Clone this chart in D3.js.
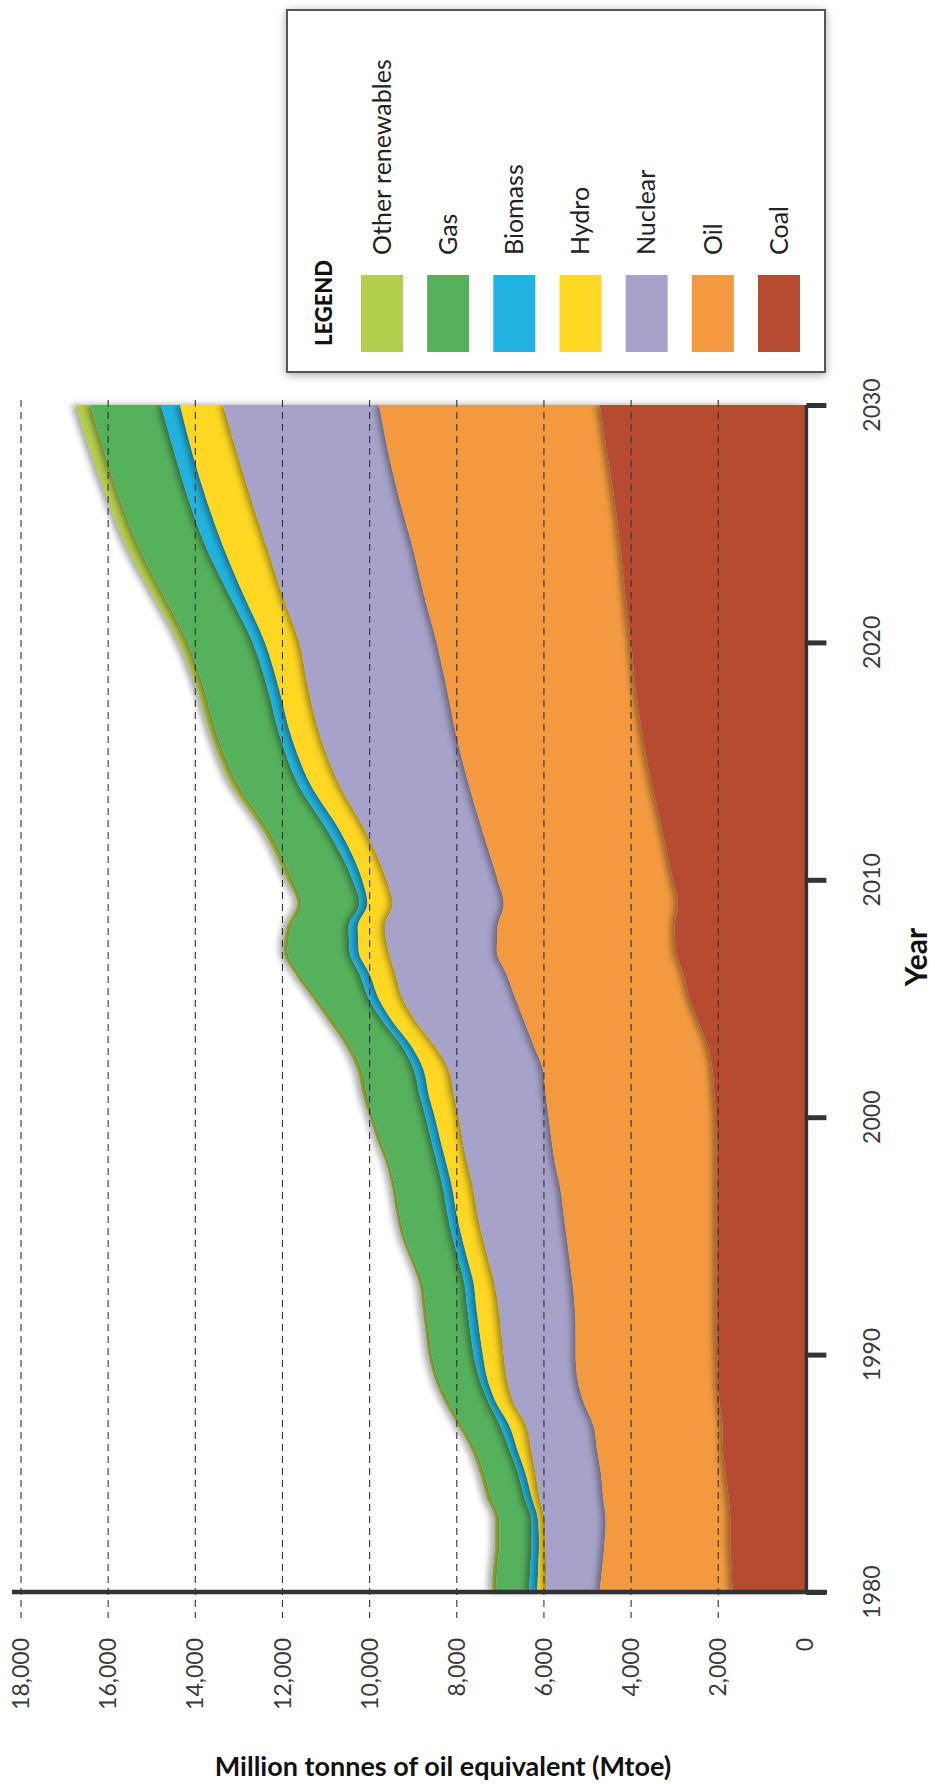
<!DOCTYPE html>
<html><head><meta charset="utf-8">
<script src="https://cdn.jsdelivr.net/npm/d3@7"></script>
<style>body{margin:0;background:#fff;} svg{display:block;}</style>
</head><body>
<svg id="chart" width="935" height="1784"></svg>
<script>
// ---- data (Mtoe) ----
const years = [1980,1981,1982,1983,1984,1985,1986,1987,1988,1989,1990,1991,1992,1993,1994,1995,1996,1997,1998,1999,2000,2001,2002,2003,2004,2005,2006,2007,2008,2009,2010,2012,2014,2016,2018,2020,2022,2024,2026,2028,2030];
const coal = [1670,1690,1720,1720,1760,1830,1890,1900,1970,2010,2020,2040,2040,2040,2040,2040,2040,2040,2040,2040,2050,2090,2130,2240,2450,2660,2790,2970,3000,2920,3040,3270,3520,3730,3890,4000,4130,4240,4380,4550,4720];
const oil = [3050,2970,2890,2860,2880,2860,2890,2960,3120,3220,3250,3230,3250,3300,3370,3440,3510,3580,3700,3780,3840,3870,3890,3990,3990,3990,4060,4110,4060,4000,4020,4130,4200,4270,4330,4460,4620,4770,4930,5020,5060];
const nuclear = [1220,1290,1350,1400,1460,1500,1510,1540,1610,1620,1650,1710,1750,1790,1860,1930,1980,2000,2010,2040,2060,2110,2160,2270,2480,2590,2550,2480,2590,2550,2550,2680,2970,3120,3180,3150,3250,3340,3400,3470,3580];
const hydro = [210,180,150,150,180,230,320,390,400,450,480,500,510,480,480,480,480,480,480,510,550,580,580,540,540,550,590,690,620,580,560,580,660,670,670,790,890,1000,1030,1030,990];
const biomass = [190,180,170,150,170,170,180,210,170,180,210,210,210,210,210,210,210,210,210,210,210,210,220,220,220,230,230,210,210,180,220,280,280,260,260,280,330,400,410,410,440];
const gas = [760,760,740,740,770,780,780,870,910,950,960,950,950,960,1030,1100,1100,1100,1100,1160,1210,1210,1200,1180,1130,1180,1380,1420,1320,1330,1380,1350,1380,1430,1460,1490,1510,1540,1570,1600,1620];
const other = [100,100,100,100,100,100,100,100,100,80,80,80,80,80,70,70,70,70,70,80,80,100,110,110,110,110,100,100,110,100,140,140,170,150,170,210,250,280,290,320,340];

const seriesNames = ["Coal","Oil","Nuclear","Hydro","Biomass","Gas","Other renewables"];
const seriesColors = ["#b74b32","#f39a40","#a7a2c9","#fed723","#20b2e0","#55b15b","#b1ce4c"];
const legendOrder = ["Other renewables","Gas","Biomass","Hydro","Nuclear","Oil","Coal"];
const valueTicks = [0,2000,4000,6000,8000,10000,12000,14000,16000,18000];
const yearTicks = [1980,1990,2000,2010,2020,2030];

// ---- build table ----
const seriesData = [coal,oil,nuclear,hydro,biomass,gas,other];
const table = years.map((yr,i)=>{
  const row = {year: yr};
  seriesNames.forEach((n,k)=>{ row[n] = seriesData[k][i]; });
  return row;
});

const FONT = "Lato, 'Open Sans', sans-serif";
const svg = d3.select("#chart");

const x = d3.scaleLinear().domain([0,18000]).range([805.4,21]);
const y = d3.scaleLinear().domain([1980,2030]).range([1592,405]);
const color = d3.scaleOrdinal().domain(seriesNames).range(seriesColors);

const defs = svg.append("defs");
defs.append("filter").attr("id","sh").attr("x","-20%").attr("y","-5%").attr("width","140%").attr("height","110%")
  .append("feDropShadow").attr("dx",-4).attr("dy",0).attr("stdDeviation",3)
  .attr("flood-color","#000").attr("flood-opacity",0.38);
defs.append("filter").attr("id","boxsh").attr("x","-10%").attr("y","-10%").attr("width","120%").attr("height","120%")
  .append("feDropShadow").attr("dx",0).attr("dy",2).attr("stdDeviation",4)
  .attr("flood-color","#000").attr("flood-opacity",0.35);

// ---- stacked areas ----
const stack = d3.stack().keys(seriesNames);
const layers = stack(table);
const area = d3.area()
  .curve(d3.curveMonotoneY)
  .y(d=>y(d.data.year))
  .x0(d=>x(d[0]))
  .x1(d=>x(d[1]));

svg.append("g").selectAll("path")
  .data(layers.slice().reverse())
  .join("path")
  .attr("d", area)
  .attr("fill", d=>color(d.key))
  .attr("filter","url(#sh)");

// ---- dashed grid ----
svg.append("g").selectAll("line")
  .data(valueTicks.filter(v=>v>0))
  .join("line")
  .attr("x1", d=>x(d)).attr("x2", d=>x(d))
  .attr("y1", y(2030)-5).attr("y2", 1618)
  .attr("stroke","#333").attr("stroke-width",1.1)
  .attr("stroke-dasharray","7,5");

// ---- axes lines ----
const axisColor = "#333";
svg.append("line").attr("x1",12).attr("x2",827).attr("y1",y(1980)).attr("y2",y(1980))
  .attr("stroke",axisColor).attr("stroke-width",4.5);
const yearAxis = d3.axisRight(y).tickValues(yearTicks).tickSize(20).tickFormat("");
const gY = svg.append("g").attr("transform",`translate(${x(0)+1},0)`).call(yearAxis);
gY.select(".domain").attr("stroke",axisColor).attr("stroke-width",3.5).attr("d",`M0,${y(2030)}V${y(1980)}`);
gY.selectAll(".tick line").attr("stroke",axisColor).attr("stroke-width",5);

// year labels
svg.append("g").selectAll("text")
  .data(yearTicks)
  .join("text")
  .attr("transform", d=>`translate(872,${y(d)}) rotate(-90)`)
  .attr("text-anchor","middle")
  .attr("dy","0.35em")
  .attr("font-family",FONT).attr("font-size",23).attr("fill","#3a3a3a")
  .text(d=>d);

// value labels
const fmt = d3.format(",");
svg.append("g").selectAll("text")
  .data(valueTicks)
  .join("text")
  .attr("transform", d=>`translate(${x(d)},1638) rotate(-90)`)
  .attr("text-anchor","end")
  .attr("dy","0.35em")
  .attr("font-family",FONT).attr("font-size",23).attr("fill","#3a3a3a")
  .text(d=>fmt(d));

// axis titles
svg.append("text")
  .attr("x",443).attr("y",1776)
  .attr("text-anchor","middle")
  .attr("font-family",FONT).attr("font-weight","bold").attr("font-size",27).attr("fill","#111")
  .text("Million tonnes of oil equivalent (Mtoe)");
svg.append("text")
  .attr("transform",`translate(927,957) rotate(-90)`)
  .attr("text-anchor","middle")
  .attr("font-family",FONT).attr("font-weight","bold").attr("font-size",30).attr("fill","#111")
  .text("Year");

// ---- legend ----
const lg = svg.append("g");
lg.append("rect").attr("x",287).attr("y",10).attr("width",538).attr("height",362)
  .attr("fill","#fff").attr("stroke","#555").attr("stroke-width",2).attr("filter","url(#boxsh)");
lg.append("text")
  .attr("transform","translate(324,346) rotate(-90)")
  .attr("dy","0.35em")
  .attr("font-family",FONT).attr("font-weight","900").attr("font-size",22).attr("fill","#111")
  .text("LEGEND");
const lx = d3.scalePoint().domain(legendOrder).range([382,779]);
lg.selectAll("rect.sw").data(legendOrder).join("rect").attr("class","sw")
  .attr("x", d=>lx(d)-21).attr("y",275).attr("width",42).attr("height",77)
  .attr("fill", d=>color(d));
lg.selectAll("text.lab").data(legendOrder).join("text").attr("class","lab")
  .attr("transform", d=>`translate(${lx(d)},255) rotate(-90)`)
  .attr("dy","0.35em")
  .attr("font-family",FONT).attr("font-size",25).attr("fill","#222")
  .text(d=>d);
</script>
</body></html>
